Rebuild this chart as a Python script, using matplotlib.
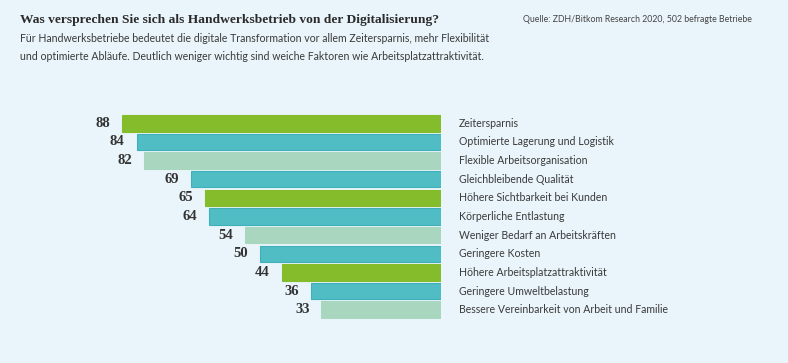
import matplotlib
matplotlib.use("Agg")
import matplotlib.pyplot as plt

# data
categories = [
    "Zeitersparnis",
    "Optimierte Lagerung und Logistik",
    "Flexible Arbeitsorganisation",
    "Gleichbleibende Qualität",
    "Höhere Sichtbarkeit bei Kunden",
    "Körperliche Entlastung",
    "Weniger Bedarf an Arbeitskräften",
    "Geringere Kosten",
    "Höhere Arbeitsplatzattraktivität",
    "Geringere Umweltbelastung",
    "Bessere Vereinbarkeit von Arbeit und Familie",
]
values = [88, 84, 82, 69, 65, 64, 54, 50, 44, 36, 33]

title = "Was versprechen Sie sich als Handwerksbetrieb von der Digitalisierung?"
subtitle_lines = [
    "Für Handwerksbetriebe bedeutet die digitale Transformation vor allem Zeitersparnis, mehr Flexibilität",
    "und optimierte Abläufe. Deutlich weniger wichtig sind weiche Faktoren wie Arbeitsplatzattraktivität.",
]
source = "Quelle: ZDH/Bitkom Research 2020, 502 befragte Betriebe"

GREEN = "#84bc2b"
TEAL = "#50bcc3"
LIGHT = "#a8d6be"
colors = [GREEN, TEAL, LIGHT, TEAL, GREEN, TEAL, LIGHT, TEAL, GREEN, TEAL, LIGHT]
edges = [{GREEN: GREEN, TEAL: "#3fb0b9", LIGHT: LIGHT}[c] for c in colors]

BG = "#eaf5fb"
sans = ["Lato", "DejaVu Sans"]
serif = ["Liberation Serif", "DejaVu Serif"]

W, H = 788, 363
fig = plt.figure(figsize=(W / 100, H / 100), dpi=100, facecolor=BG)

# axes: right edge = value 0 at x=441px, 3.625 px per unit
px_per_unit = 3.625
right_px = 441
top_px, bot_px = 114, 319
ax = fig.add_axes([0, 1 - bot_px / H, right_px / W, (bot_px - top_px) / H])
ax.set_facecolor("none")
n = len(values)
ypos = list(range(n))
ax.barh(ypos, values, height=0.88, color=colors, edgecolor=edges, linewidth=0.8)
ax.set_xlim(right_px / px_per_unit, 0)
ax.set_ylim(n - 0.5, -0.5)
ax.axis("off")

for y, v, lab in zip(ypos, values, categories):
    ax.annotate(str(v), (v, y), xytext=(-8.5, 0), textcoords="offset points",
                ha="right", va="center", fontsize=10.5, fontweight="bold",
                family=serif, color="#333333")
    ax.annotate(lab, (0, y), xytext=(13, 0), textcoords="offset points",
                ha="left", va="center", fontsize=7.6, family=sans, color="#3a3a3a",
                annotation_clip=False)

fig.text(20 / W, 1 - 20 / H, title, ha="left", va="center", fontsize=9.7,
         fontweight="bold", family=serif, color="#2b2b2b")
for i, line in enumerate(subtitle_lines):
    fig.text(20 / W, 1 - (39 + 17 * i) / H, line, ha="left", va="center", fontsize=7.6,
             family=sans, color="#3a3a3a")
fig.text(752 / W, 1 - 20 / H, source, ha="right", va="center", fontsize=6.3,
         family=sans, color="#444444")

fig.savefig("out.png", dpi=100, facecolor=BG)
